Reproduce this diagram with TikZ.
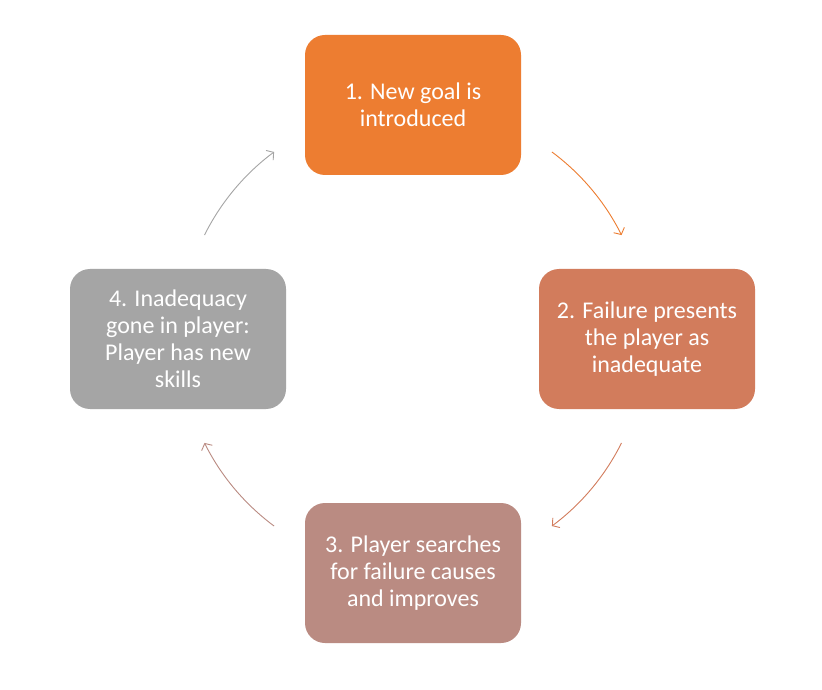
\documentclass[tikz,border=0pt]{standalone}
\usepackage{fontspec}
\setmainfont{Carlito}
\usetikzlibrary{arrows.meta,calc}
\definecolor{cA}{RGB}{237,125,49}
\definecolor{cB}{RGB}{210,124,92}
\definecolor{cC}{RGB}{186,139,130}
\definecolor{cD}{RGB}{165,165,165}
\definecolor{txt}{RGB}{255,255,255}
\tikzset{
  stepbox/.style={rounded corners=20pt, minimum width=216pt, minimum height=140pt,
    inner sep=0pt, align=center, text=txt,
    font=\fontsize{24pt}{27pt}\selectfont},
  cyc/.style={line width=0.9pt, -{Straight Barb[length=5pt,width=12pt]}}
}
\begin{document}
\begin{tikzpicture}[x=1pt,y=1pt]
\useasboundingbox (0,0) rectangle (822,689);
\fill[white] (0,0) rectangle (822,689);
\coordinate (c) at (413,350);
\node[stepbox, fill=cA] (n1) at (413,584) {1. New goal is\\introduced};
\node[stepbox, fill=cB] (n2) at (647,350) {2. Failure presents\\the player as\\inadequate};
\node[stepbox, fill=cC] (n3) at (413,116) {3. Player searches\\for failure causes\\and improves};
\node[stepbox, fill=cD] (n4) at (178,350) {4. Inadequacy\\gone in player:\\Player has new\\skills};
\coordinate (a1) at ($(c)+(53.4:233)$);
\coordinate (a2) at ($(c)+(-26.5:233)$);
\coordinate (a3) at ($(c)+(-126.6:233)$);
\coordinate (a4) at ($(c)+(153.5:233)$);
\draw[cyc, draw=cA] (a1) arc[start angle=53.4, end angle=26.5, radius=233];
\draw[cyc, draw=cB] (a2) arc[start angle=-26.5, end angle=-53.4, radius=233];
\draw[cyc, draw=cC] (a3) arc[start angle=-126.6, end angle=-153.5, radius=233];
\draw[cyc, draw=cD] (a4) arc[start angle=153.5, end angle=126.6, radius=233];
\end{tikzpicture}
\end{document}
